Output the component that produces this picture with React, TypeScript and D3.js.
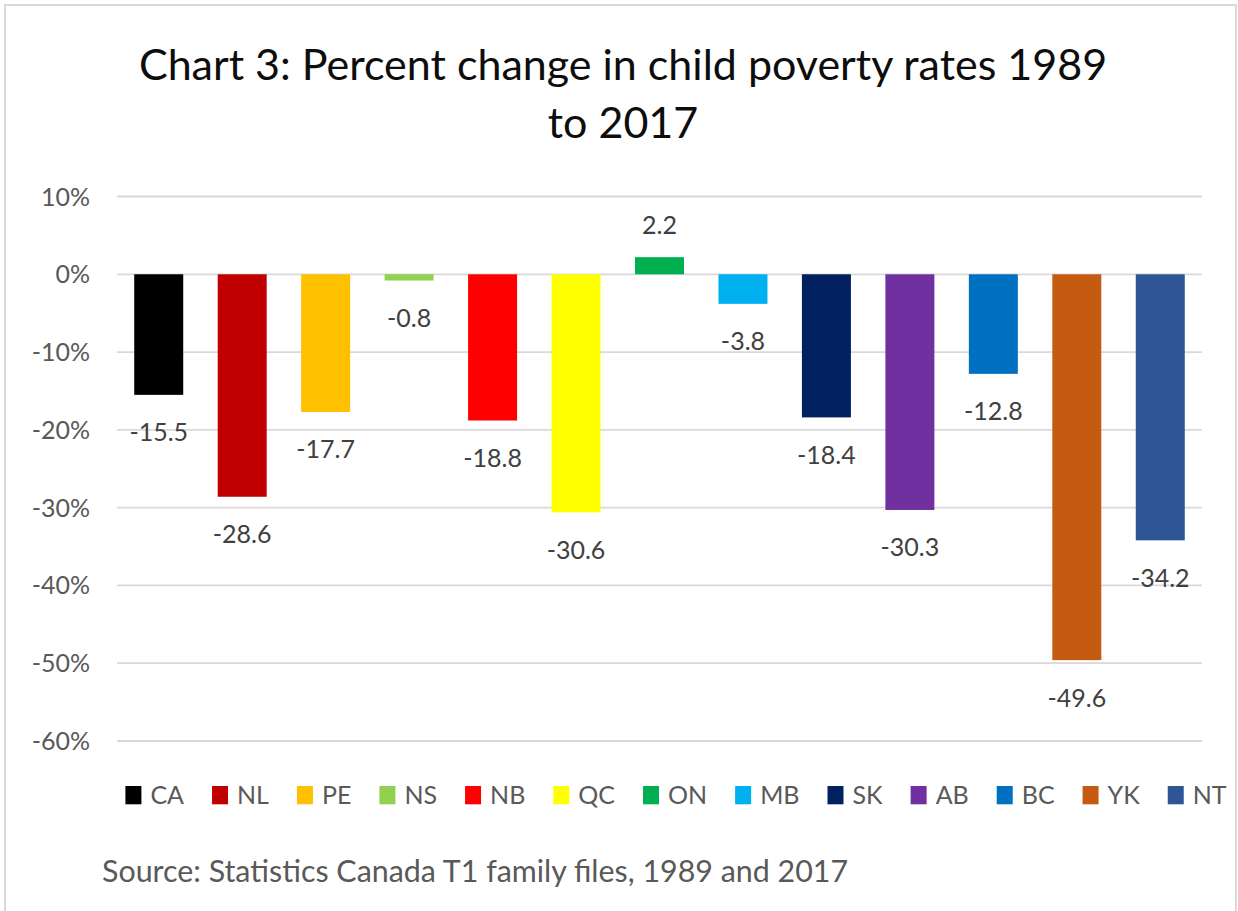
import React, { useMemo, useEffect } from "react";
import * as d3 from "d3";

const categories = ["CA", "NL", "PE", "NS", "NB", "QC", "ON", "MB", "SK", "AB", "BC", "YK", "NT"];
const values = [-15.5, -28.6, -17.7, -0.8, -18.8, -30.6, 2.2, -3.8, -18.4, -30.3, -12.8, -49.6, -34.2];
const colors = ["#000000", "#C00000", "#FFC000", "#92D050", "#FF0000", "#FFFF00", "#00B050", "#00B0F0", "#002060", "#7030A0", "#0070C0", "#C55A11", "#2F5597"];
const yTicks = [10, 0, -10, -20, -30, -40, -50, -60];
const titleLines = ["Chart 3: Percent change in child poverty rates 1989", "to 2017"];
const sourceText = "Source: Statistics Canada T1 family files, 1989 and 2017";

const W = 1238;
const H = 911;
const FONT = "Lato, 'Noto Sans', sans-serif";

export default function App() {
  useEffect(() => {
    document.body.style.margin = "0";
  }, []);

  const x = d3.scaleBand<string>().domain(categories).range([117, 1202]).paddingInner(0.413).paddingOuter(0.2065);
  const y = d3.scaleLinear().domain([-60, 10]).range([741, 196.5]);

  const legendFont = 25;
  const legend = useMemo(() => {
    const canvas = document.createElement("canvas");
    const ctx = canvas.getContext("2d");
    if (ctx) ctx.font = `${legendFont}px Lato`;
    const widths = categories.map((c) => (ctx ? ctx.measureText(c).width : c.length * 15));
    const keyW = 16, gap1 = 9, gap2 = 28;
    let total = 0;
    const pos: number[] = [];
    widths.forEach((w, i) => {
      pos.push(total);
      total += keyW + gap1 + w + (i < widths.length - 1 ? gap2 : 0);
    });
    const start = 676 - total / 2;
    return pos.map((p) => start + p);
  }, []);

  return (
    <svg width={W} height={H} style={{ position: "absolute", left: 0, top: 0, display: "block", background: "#fff" }} fontFamily={FONT}>
      <rect x={5} y={5} width={1231} height={920} fill="#fff" stroke="#d9d9d9" strokeWidth={2} />
      {titleLines.map((t, i) => (
        <text key={i} x={623} y={80 + i * 58} textAnchor="middle" fontSize={43} fill="#0d0d0d">
          {t}
        </text>
      ))}
      {yTicks.map((t) => (
        <g key={t}>
          <line x1={117} x2={1202} y1={y(t)} y2={y(t)} stroke="#d9d9d9" strokeWidth={1.8} />
          <text x={90} y={y(t) + 9} textAnchor="end" fontSize={25} fill="#595959">
            {`${t}%`}
          </text>
        </g>
      ))}
      {categories.map((c, i) => {
        const v = values[i];
        const x0 = x(c) as number;
        const bw = x.bandwidth();
        const top = y(Math.max(0, v));
        const bot = y(Math.min(0, v));
        return (
          <g key={c}>
            <rect x={x0} y={top} width={bw} height={bot - top} fill={colors[i]} />
            <text
              x={x0 + bw / 2}
              y={v < 0 ? bot + 46.5 : top - 23.5}
              textAnchor="middle"
              fontSize={25}
              fill="#404040"
            >
              {v.toFixed(1)}
            </text>
          </g>
        );
      })}
      {categories.map((c, i) => (
        <g key={"lg" + c} transform={`translate(${legend[i]},0)`}>
          <rect x={0} y={786} width={16} height={18.3} fill={colors[i]} />
          <text x={25} y={804.3} fontSize={legendFont} fill="#595959">
            {c}
          </text>
        </g>
      ))}
      <text x={102} y={882} fontSize={30.4} fill="#595959">
        {sourceText}
      </text>
    </svg>
  );
}
